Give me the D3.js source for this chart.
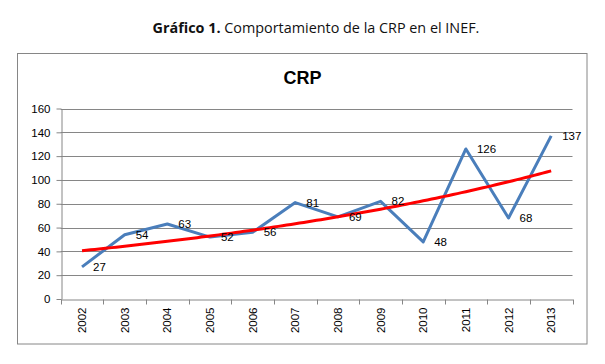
<!DOCTYPE html>
<html><head><meta charset="utf-8">
<script src="https://cdn.jsdelivr.net/npm/d3@7"></script>
<style>body{margin:0;background:#fff}svg{display:block}</style>
</head><body>
<svg id="c" width="605" height="364"></svg>
<script>
const years = ["2002","2003","2004","2005","2006","2007","2008","2009","2010","2011","2012","2013"];
const values = [27,54,63,52,56,81,69,82,48,126,68,137];
const yTicks = [0,20,40,60,80,100,120,140,160];
const chartTitle = "CRP";
const headBold = "Gráfico 1.";
const headRest = " Comportamiento de la CRP en el INEF.";

const svg = d3.select("#c");
const font = "'Liberation Sans', Arial, sans-serif";
const m = {left: 60.7, right: 572.5, top: 108.5, bottom: 299};

// header
const head = svg.append("text").attr("x", 316).attr("y", 33)
  .attr("text-anchor", "middle").attr("font-family", "'Open Sans', sans-serif")
  .attr("font-size", 13).attr("fill", "#111");
head.append("tspan").attr("font-weight", "bold").text(headBold);
head.append("tspan").text(headRest);
const w = head.node().getComputedTextLength();
head.attr("font-size", 13 * 327 / w);

// outer frame
svg.append("rect").attr("x", 17.5).attr("y", 53.5).attr("width", 569.5).attr("height", 290.5)
  .attr("fill", "#fff").attr("stroke", "#868686").attr("stroke-width", 1);

// chart title
svg.append("text").attr("x", 302.5).attr("y", 84).attr("text-anchor", "middle")
  .attr("font-family", font).attr("font-weight", "bold").attr("font-size", 18)
  .attr("fill", "#000").text(chartTitle);

const x = d3.scaleBand().domain(years).range([m.left, m.right]);
const y = d3.scaleLinear().domain([0, 160]).range([m.bottom, m.top]);

// gridlines
svg.append("g").selectAll("line").data(yTicks.filter(d => d > 0)).join("line")
  .attr("x1", m.left).attr("x2", m.right)
  .attr("y1", d => Math.round(y(d)) + 0.5).attr("y2", d => Math.round(y(d)) + 0.5)
  .attr("stroke", "#868686").attr("stroke-width", 1);

// y axis
const yAxis = svg.append("g").attr("transform", `translate(${Math.round(m.left) + 0.5},0)`)
  .call(d3.axisLeft(y).tickValues(yTicks).tickSize(5).tickPadding(6).tickSizeOuter(0));
yAxis.select(".domain").attr("stroke", "#868686");
yAxis.selectAll(".tick line").attr("stroke", "#868686");
yAxis.selectAll(".tick text").attr("font-family", font).attr("font-size", 11.5).attr("fill", "#000");

// x axis
const xAxis = svg.append("g").attr("transform", `translate(0,${Math.round(m.bottom) + 0.5})`)
  .call(d3.axisBottom(x).tickSize(0).tickSizeOuter(0));
xAxis.select(".domain").attr("stroke", "#868686");
xAxis.selectAll(".tick line").remove();
// tick marks at band boundaries
const bounds = years.map(d => x(d)).concat([x(years[years.length - 1]) + x.bandwidth()]);
xAxis.selectAll(".bt").data(bounds).join("line").attr("class", "bt")
  .attr("x1", d => Math.round(d) + 0.5).attr("x2", d => Math.round(d) + 0.5)
  .attr("y1", 0).attr("y2", 5).attr("stroke", "#868686");
xAxis.selectAll(".tick text")
  .attr("font-family", font).attr("font-size", 11.5).attr("fill", "#000")
  .attr("transform", "rotate(-90)").attr("text-anchor", "end")
  .attr("x", -8).attr("y", 0).attr("dy", "0.35em");

// data line
const cx = d => x(d) + x.bandwidth() / 2;
svg.append("path").datum(values.map((v, i) => [cx(years[i]), y(v)]))
  .attr("d", d3.line()).attr("fill", "none").attr("stroke", "#4A7EBB")
  .attr("stroke-width", 3).attr("stroke-linejoin", "round");

// exponential trendline (least squares on ln y), as in the spreadsheet
const n = values.length;
const xs = values.map((_, i) => i + 1);
const ly = values.map(v => Math.log(v));
const mx = d3.mean(xs), my = d3.mean(ly);
const b = d3.sum(xs.map((xi, i) => (xi - mx) * (ly[i] - my))) / d3.sum(xs.map(xi => (xi - mx) ** 2));
const a = my - b * mx;
const xt = d3.scaleLinear().domain([1, n]).range([cx(years[0]), cx(years[n - 1])]);
const trend = d3.range(1, n + 0.001, 0.1).map(t => [xt(t), y(Math.exp(a + b * t))]);
svg.append("path").datum(trend).attr("d", d3.line()).attr("fill", "none")
  .attr("stroke", "#FF0000").attr("stroke-width", 3);

// data labels
svg.append("g").selectAll("text").data(values).join("text")
  .attr("x", (d, i) => cx(years[i]) + 11).attr("y", d => y(d))
  .attr("dy", "0.35em").attr("font-family", font).attr("font-size", 11.5)
  .attr("fill", "#000").text(d => d);
</script>
</body></html>
